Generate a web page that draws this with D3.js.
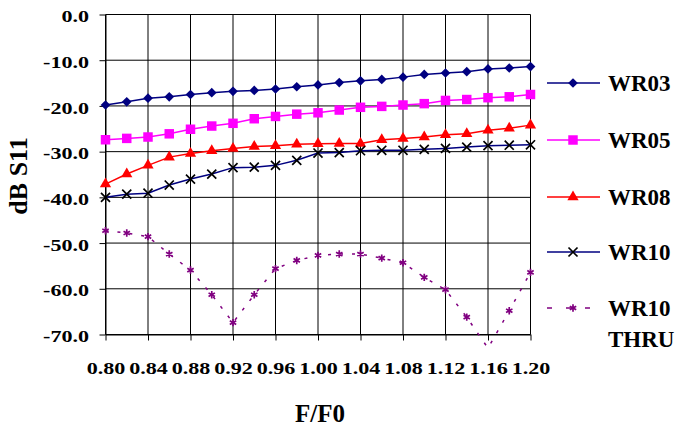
<!DOCTYPE html>
<html>
<head>
<meta charset="utf-8">
<script src="https://cdn.jsdelivr.net/npm/d3@7"></script>
<style>
body { margin: 0; background: #fff; }
text { font-family: "Liberation Serif", "Times New Roman", serif; font-weight: bold; fill: #000; }
</style>
</head>
<body>
<div id="chart"></div>
<script>
// frequency points (F/F0)
var freq = [0.80, 0.82, 0.84, 0.86, 0.88, 0.90, 0.92, 0.94, 0.96, 0.98, 1.00,
            1.02, 1.04, 1.06, 1.08, 1.10, 1.12, 1.14, 1.16, 1.18, 1.20];

var wr03 = [-19.8, -19.1, -18.3, -18.0, -17.5, -17.1, -16.8, -16.6, -16.3, -15.8, -15.4,
            -14.9, -14.5, -14.2, -13.7, -13.1, -12.8, -12.5, -11.9, -11.7, -11.4];
var wr05 = [-27.4, -27.1, -26.8, -26.1, -25.1, -24.4, -23.8, -22.8, -22.3, -21.8, -21.5,
            -20.9, -20.3, -20.1, -19.8, -19.5, -18.8, -18.6, -18.2, -18.0, -17.5];
var wr08 = [-37.1, -34.9, -33.0, -31.2, -30.4, -29.8, -29.3, -28.9, -28.7, -28.4, -28.3,
            -28.2, -28.2, -27.4, -27.1, -26.8, -26.3, -26.1, -25.3, -24.9, -24.2];
var wr10 = [-40.0, -39.3, -39.1, -37.3, -36.0, -34.9, -33.5, -33.4, -33.0, -31.9, -30.3,
            -30.2, -29.8, -29.7, -29.7, -29.5, -29.3, -29.0, -28.7, -28.6, -28.5];
var wr10thru = [-47.3, -47.8, -48.6, -52.4, -55.9, -61.3, -67.4, -61.3, -55.6, -53.8, -52.7,
                -52.4, -52.4, -53.3, -54.3, -57.5, -60.2, -66.2, -73.0, -64.8, -56.4];

var xTicks = [0.80, 0.84, 0.88, 0.92, 0.96, 1.00, 1.04, 1.08, 1.12, 1.16, 1.20];
var yTicks = [0, -10, -20, -30, -40, -50, -60, -70];
var seriesNames = ["WR03", "WR05", "WR08", "WR10", "WR10 THRU"];

var width = 678, height = 434;
var plotLeft = 105.5, plotRight = 530.5, plotTop = 14.5, plotBottom = 334.5;
var stretch = 1.38;

var svg = d3.select("#chart").append("svg")
    .attr("width", width).attr("height", height);

var x = d3.scaleLinear().domain([0.8, 1.2]).range([plotLeft, plotRight]);
var y = d3.scaleLinear().domain([-70, 0]).range([plotBottom, plotTop]);

// grid
svg.append("g").selectAll("line").data(xTicks).enter().append("line")
    .attr("x1", function(d) { return x(d); }).attr("x2", function(d) { return x(d); })
    .attr("y1", plotTop).attr("y2", plotBottom)
    .attr("stroke", "#000").attr("stroke-width", 1);
svg.append("g").selectAll("line").data(yTicks).enter().append("line")
    .attr("x1", plotLeft).attr("x2", plotRight)
    .attr("y1", function(d) { return y(d); }).attr("y2", function(d) { return y(d); })
    .attr("stroke", "#000").attr("stroke-width", 1);

// axes (plain hyphen for the minus sign, like the original)
var yAxis = svg.append("g").attr("transform", "translate(" + plotLeft + ",0)")
    .call(d3.axisLeft(y).tickValues(yTicks).tickSize(6).tickSizeOuter(0)
        .tickFormat(function(d) { return d.toFixed(1); }));
yAxis.selectAll("text")
    .style("font-size", "16px")
    .attr("x", -16.5 / stretch).attr("dy", "0.45em")
    .attr("transform", "scale(" + stretch + ",1)");

var xAxis = svg.append("g").attr("transform", "translate(0," + plotBottom + ")")
    .call(d3.axisBottom(x).tickValues(xTicks).tickSize(6).tickSizeOuter(0)
        .tickFormat(function(d) { return d.toFixed(2); }));
xAxis.selectAll("text")
    .style("font-size", "16px")
    .attr("y", 28).attr("dy", "0.71em")
    .attr("transform", "scale(" + stretch + ",1)");
svg.selectAll(".domain").attr("stroke", "#000");
svg.selectAll(".tick line").attr("stroke", "#000");

// axis titles
svg.append("text").attr("x", 320).attr("y", 422).attr("text-anchor", "middle")
    .style("font-size", "25px").text("F/F0");
svg.append("text").attr("transform", "translate(27,176) rotate(-90)")
    .attr("text-anchor", "middle").style("font-size", "26px").text("dB S11");

// series
var series = [
    { name: seriesNames[0], values: wr03, line: "#000080", marker: d3.symbolDiamond2, size: 60, fill: "#000080", stroke: "none" },
    { name: seriesNames[1], values: wr05, line: "#ff00ff", marker: d3.symbolSquare, size: 90, fill: "#ff00ff", stroke: "none" },
    { name: seriesNames[2], values: wr08, line: "#ff0000", marker: d3.symbolTriangle, size: 55, fill: "#ff0000", stroke: "none" },
    { name: seriesNames[3], values: wr10, line: "#000080", marker: d3.symbolTimes, size: 55, fill: "none", stroke: "#000" },
    { name: seriesNames[4], values: wr10thru, line: "#800080", marker: d3.symbolAsterisk, size: 38, fill: "none", stroke: "#800080", dash: "3,9" }
];

var line = d3.line()
    .x(function(d) { return x(d[0]); })
    .y(function(d) { return y(d[1]); });

series.forEach(function(s) {
    var pts = freq.map(function(f, i) { return [f, s.values[i]]; });
    svg.append("path").datum(pts)
        .attr("d", line)
        .attr("fill", "none")
        .attr("stroke", s.line)
        .attr("stroke-width", 1.5)
        .attr("stroke-dasharray", s.dash || null);
    var sym = d3.symbol().type(s.marker).size(s.size);
    svg.append("g").selectAll("path")
        .data(pts.filter(function(p) { return p[1] >= -70; }))
        .enter().append("path")
        .attr("transform", function(p) { return "translate(" + x(p[0]) + "," + y(p[1]) + ")"; })
        .attr("d", sym)
        .attr("fill", s.fill)
        .attr("stroke", s.stroke)
        .attr("stroke-width", s.stroke === "none" ? 0 : 1.7);
});

// legend
var legendY = [83, 140, 197, 252, 308];
var legend = svg.append("g");
series.forEach(function(s, i) {
    var g = legend.append("g").attr("transform", "translate(0," + legendY[i] + ")");
    g.append("line").attr("x1", 547).attr("x2", 600).attr("y1", 0).attr("y2", 0)
        .attr("stroke", s.line).attr("stroke-width", 1.5)
        .attr("stroke-dasharray", s.dash ? "5,14" : null);
    g.append("path").attr("transform", "translate(573,0)")
        .attr("d", d3.symbol().type(s.marker).size(s.size))
        .attr("fill", s.fill).attr("stroke", s.stroke)
        .attr("stroke-width", s.stroke === "none" ? 0 : 1.7);
    var words = s.name.split(" ");
    var t = g.append("text").attr("x", 608).attr("y", 8).style("font-size", "23px");
    words.forEach(function(w, j) {
        t.append("tspan").attr("x", 608).attr("dy", j === 0 ? 0 : 31).text(w);
    });
});
</script>
</body>
</html>
